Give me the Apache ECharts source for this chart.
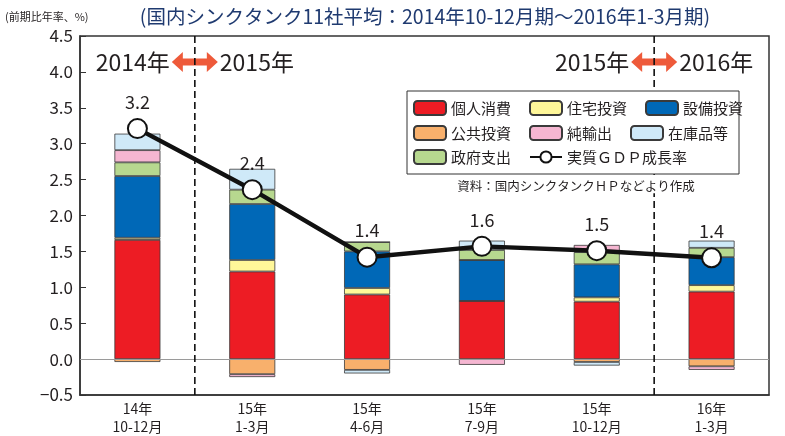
<!DOCTYPE html>
<html>
<head>
<meta charset="utf-8">
<script src="https://cdn.jsdelivr.net/npm/echarts@6/dist/echarts.min.js"></script>
<style>
html,body{margin:0;padding:0;background:#fff;}
#c{width:785px;height:436px;}
</style>
</head>
<body>
<div id="c"></div>
<script>
const categories = ['14年\n10-12月', '15年\n1-3月', '15年\n4-6月', '15年\n7-9月', '15年\n10-12月', '16年\n1-3月'];
const privateConsumption = [1.66, 1.22, 0.90, 0.81, 0.80, 0.94];
const housingInvestment = [0.03, 0.16, 0.09, 0, 0.06, 0.09];
const capitalInvestment = [0.86, 0.78, 0.51, 0.57, 0.46, 0.39];
const publicInvestment = [-0.04, -0.21, -0.15, 0, -0.04, -0.10];
const governmentSpending = [0.19, 0.20, 0.13, 0.14, 0.17, 0.13];
const netExports = [0.17, -0.04, 0, -0.08, 0.10, -0.05];
const inventories = [0.23, 0.29, -0.05, 0.13, -0.05, 0.10];
const realGdp = [3.21, 2.36, 1.42, 1.57, 1.51, 1.41];
const realGdpLabels = ['3.2', '2.4', '1.4', '1.6', '1.5', '1.4'];
const yTicks = { min: -0.5, max: 4.5, interval: 0.5 };

const FONT = '"Noto Sans CJK JP", "Noto Sans", sans-serif';
const TXT = '#231f20';
const GDP_NAME = '実質ＧＤＰ成長率';

const barSeries = [
  ['個人消費', privateConsumption, '#ed1c24'],
  ['住宅投資', housingInvestment, '#fff799'],
  ['設備投資', capitalInvestment, '#0068b7'],
  ['公共投資', publicInvestment, '#f8b06c'],
  ['政府支出', governmentSpending, '#b7d88f'],
  ['純輸出', netExports, '#f5b6d1'],
  ['在庫品等', inventories, '#cfe9f8']
].map(([name, data, color]) => ({
  name, type: 'bar', stack: 'gdp', data, barWidth: 46,
  itemStyle: { color, borderColor: '#3a3a3a', borderWidth: 0.8 },
  emphasis: { disabled: true }
}));

barSeries[0].markLine = {
  silent: true, symbol: 'none', label: { show: false },
  lineStyle: { color: '#9a9a9a', width: 1.2, type: 'solid' },
  data: [{ yAxis: 0 }]
};

const lineSeries = {
  name: GDP_NAME, type: 'line', data: realGdp,
  symbol: 'circle', symbolSize: 19, z: 5,
  lineStyle: { color: '#111', width: 4.5 },
  itemStyle: { color: '#fff', borderColor: '#111', borderWidth: 2 },
  label: {
    show: true, position: 'top', distance: 7, fontSize: 18, color: TXT, fontFamily: FONT,
    formatter: p => realGdpLabels[p.dataIndex]
  }
};

function legendRow(top, data) {
  return {
    top, left: 413, orient: 'horizontal', padding: 0, itemGap: 18,
    itemWidth: 32, itemHeight: 14, data, z: 20,
    selectedMode: false,
    textStyle: { fontSize: 15, color: TXT, fontFamily: FONT, width: 60, padding: [0, 0, 0, 0] }
  };
}

const chart = echarts.init(document.getElementById('c'), null, { renderer: 'canvas' });
chart.setOption({
  animation: false,
  backgroundColor: '#fff',
  textStyle: { fontFamily: FONT },
  grid: { left: 80, right: 16, top: 36, bottom: 39, show: true, borderColor: '#333', borderWidth: 1.5, backgroundColor: 'transparent' },
  legend: [
    legendRow(100, ['個人消費', '住宅投資', '設備投資']),
    legendRow(125, ['公共投資', '純輸出', '在庫品等']),
    legendRow(149, ['政府支出', GDP_NAME])
  ],
  xAxis: {
    type: 'category', data: categories, position: 'bottom',
    axisLine: { onZero: false, lineStyle: { color: '#333', width: 1.5 } },
    axisTick: { show: false },
    axisLabel: { fontSize: 14, lineHeight: 18, color: TXT, margin: 5, fontFamily: FONT }
  },
  yAxis: {
    type: 'value', min: yTicks.min, max: yTicks.max, interval: yTicks.interval,
    axisLine: { show: true, lineStyle: { color: '#333', width: 1.5 } },
    axisTick: { show: true, inside: true, length: 6, lineStyle: { color: '#333', width: 1 } },
    splitLine: { show: false },
    axisLabel: {
      fontSize: 17, color: TXT, margin: 7, fontFamily: FONT,
      formatter: v => v.toFixed(1).replace('-', '\u2212')
    }
  },
  series: [...barSeries, lineSeries]
});

// Annotations positioned from the axes
const x0 = chart.convertToPixel({ xAxisIndex: 0 }, 0);
const x1 = chart.convertToPixel({ xAxisIndex: 0 }, 1);
const x4 = chart.convertToPixel({ xAxisIndex: 0 }, 4);
const x5 = chart.convertToPixel({ xAxisIndex: 0 }, 5);
const yTop = chart.convertToPixel({ yAxisIndex: 0 }, yTicks.max);
const yBot = chart.convertToPixel({ yAxisIndex: 0 }, yTicks.min);
const dashA = (x0 + x1) / 2;
const dashB = (x4 + x5) / 2;
const yearY = 62;

function arrow(cx, cy) {
  return {
    type: 'polygon', z: 10,
    shape: { points: [
      [cx - 23, cy], [cx - 12, cy - 10], [cx - 12, cy - 3.5], [cx + 12, cy - 3.5], [cx + 12, cy - 10],
      [cx + 23, cy], [cx + 12, cy + 10], [cx + 12, cy + 3.5], [cx - 12, cy + 3.5], [cx - 12, cy + 10]
    ] },
    style: { fill: '#ee5a3a' }
  };
}
function dash(x) {
  return {
    type: 'line', z: 12, silent: true,
    shape: { x1: x, y1: yTop, x2: x, y2: yBot },
    style: { stroke: '#111', lineWidth: 1.6, lineDash: [7, 4] }
  };
}
function yearText(x, y, text, align) {
  return {
    type: 'text', z: 15, x, y,
    style: { text, fontSize: 23, fill: TXT, fontFamily: FONT, align, verticalAlign: 'middle' }
  };
}

chart.setOption({
  graphic: [
    arrow(dashA, yearY), arrow(dashB, yearY),
    dash(dashA), dash(dashB),
    yearText(dashA - 25, yearY, '2014年', 'right'),
    yearText(dashA + 25, yearY, '2015年', 'left'),
    yearText(dashB - 25, yearY, '2015年', 'right'),
    yearText(dashB + 25, yearY, '2016年', 'left'),
    { type: 'rect', z: 18, shape: { x: 407, y: 91, width: 332, height: 83 },
      style: { fill: '#fff', stroke: '#333', lineWidth: 1 } },
    { type: 'text', z: 18, x: 576, y: 186,
      style: { text: '資料：国内シンクタンクＨＰなどより作成', fontSize: 12.5, fill: TXT, fontFamily: FONT,
               align: 'center', verticalAlign: 'middle', backgroundColor: '#fff', padding: [1, 2] } },
    { type: 'text', z: 18, x: 5, y: 17,
      style: { text: '(前期比年率、%)', fontSize: 11, fill: TXT, fontFamily: FONT, align: 'left', verticalAlign: 'middle' } },
    { type: 'text', z: 18, x: 425, y: 17,
      style: { text: '(国内シンクタンク11社平均：2014年10-12月期～2016年1-3月期)', fontSize: 19.5, fill: '#1f3a70',
               fontFamily: FONT, align: 'center', verticalAlign: 'middle' } }
  ]
});
</script>
</body>
</html>
